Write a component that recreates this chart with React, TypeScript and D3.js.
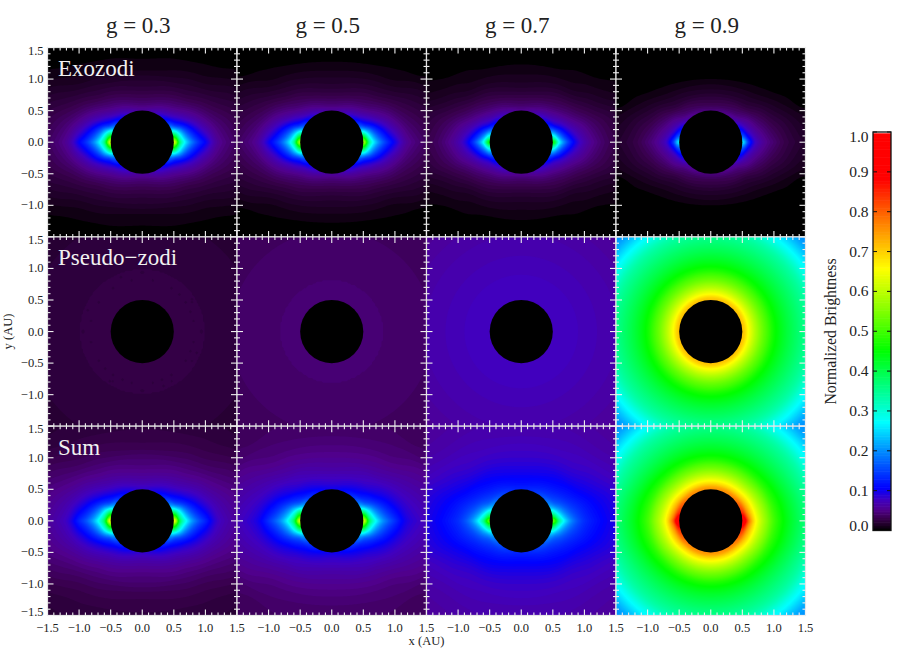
import React, { useMemo } from "react";
import * as d3 from "d3";

// polar sampling: radius in AU, angle above the x axis in degrees
const radii = [0.5, 0.6, 0.7, 0.8, 0.9, 1.0, 1.2, 1.4, 1.6, 1.8, 2.12];
const angles = [0, 15, 30, 50, 90];

const exoG03 = [
  [0.65, 0.36, 0.25, 0.18, 0.135, 0.105, 0.055, 0.04, 0.03, 0.025, 0.02],
  [0.36, 0.25, 0.16, 0.112, 0.083, 0.064, 0.042, 0.032, 0.025, 0.02, 0.015],
  [0.17, 0.115, 0.085, 0.065, 0.052, 0.042, 0.028, 0.02, 0.015, 0.01, 0.004],
  [0.095, 0.068, 0.05, 0.039, 0.031, 0.024, 0.015, 0.008, 0.004, 0.002, 0.001],
  [0.055, 0.042, 0.032, 0.025, 0.019, 0.015, 0.006, 0.003, 0.001, 0.001, 0.001],
];
const exoG05 = [
  [0.6, 0.34, 0.235, 0.17, 0.128, 0.098, 0.054, 0.04, 0.03, 0.025, 0.018],
  [0.34, 0.23, 0.15, 0.108, 0.08, 0.062, 0.04, 0.03, 0.023, 0.018, 0.012],
  [0.16, 0.11, 0.082, 0.062, 0.05, 0.041, 0.027, 0.019, 0.013, 0.007, 0.002],
  [0.092, 0.065, 0.048, 0.037, 0.03, 0.023, 0.013, 0.006, 0.003, 0.001, 0.001],
  [0.055, 0.041, 0.031, 0.023, 0.017, 0.013, 0.006, 0.002, 0.001, 0.001, 0.001],
];
const exoG07 = [
  [0.47, 0.28, 0.18, 0.12, 0.085, 0.065, 0.045, 0.032, 0.025, 0.02, 0.01],
  [0.24, 0.16, 0.105, 0.076, 0.06, 0.05, 0.035, 0.026, 0.019, 0.013, 0.006],
  [0.125, 0.085, 0.065, 0.05, 0.04, 0.032, 0.021, 0.013, 0.008, 0.005, 0.002],
  [0.08, 0.058, 0.043, 0.033, 0.026, 0.019, 0.009, 0.005, 0.002, 0.001, 0.001],
  [0.05, 0.037, 0.028, 0.02, 0.014, 0.01, 0.005, 0.001, 0.001, 0.001, 0.001],
];
const exoG09 = [
  [0.27, 0.14, 0.08, 0.06, 0.048, 0.04, 0.026, 0.018, 0.012, 0.008, 0.005],
  [0.14, 0.085, 0.06, 0.047, 0.038, 0.03, 0.02, 0.012, 0.007, 0.003, 0.001],
  [0.09, 0.062, 0.047, 0.035, 0.027, 0.02, 0.01, 0.004, 0.001, 0.001, 0.001],
  [0.055, 0.04, 0.03, 0.02, 0.014, 0.009, 0.003, 0.001, 0.001, 0.001, 0.001],
  [0.042, 0.03, 0.022, 0.014, 0.009, 0.004, 0.001, 0.001, 0.001, 0.001, 0.001],
];

// pseudo-zodi is close to round, so one radial profile per g
const pseudoG03 = [0.025, 0.025, 0.025, 0.024, 0.024, 0.024, 0.023, 0.022, 0.021, 0.02, 0.018];
const pseudoG05 = [0.041, 0.041, 0.041, 0.04, 0.04, 0.039, 0.038, 0.037, 0.036, 0.034, 0.032];
const pseudoG07 = [0.075, 0.075, 0.074, 0.073, 0.072, 0.07, 0.068, 0.066, 0.063, 0.06, 0.055];
const pseudoG09 = [0.71, 0.65, 0.59, 0.54, 0.5, 0.46, 0.41, 0.37, 0.33, 0.27, 0.2];

const gValues = ["0.3", "0.5", "0.7", "0.9"];
const rowNames = ["Exozodi", "Pseudo\u2212zodi", "Sum"];
const exoByG = [exoG03, exoG05, exoG07, exoG09];
const pseudoByG = [pseudoG03, pseudoG05, pseudoG07, pseudoG09];

const colorStops = [0, 0.01, 0.03, 0.05, 0.075, 0.105, 0.2, 0.27, 0.36, 0.45, 0.56, 0.655, 0.77, 0.88, 1];
const colorValues = [
  "#000000", "#1a0020", "#3a0050", "#50008c", "#4000c0", "#0000ff", "#0090ff", "#00ffff",
  "#00ff80", "#00ff00", "#90ff00", "#ffff00", "#ff8000", "#ff0000", "#ff0000",
];
const barTicks = [0, 0.1, 0.2, 0.3, 0.4, 0.5, 0.6, 0.7, 0.8, 0.9, 1];

const color = d3.scaleLinear<string>().domain(colorStops).range(colorValues);

const FONT = "'Liberation Serif', 'Times New Roman', serif";
const GRID = 120;
const LEVEL_STEP = 0.004;
const levels = d3.range(LEVEL_STEP, 1.0, LEVEL_STEP);

const colX = [47.5, 237, 426.5, 616, 805.5];
const rowY = [47.5, 236.9, 426.2, 615.5];
const majorTicks = d3.range(-3, 4).map((d) => d / 2);
const minorTicks = d3.range(-15, 16).map((d) => d / 10);

// monotone cubic through the read samples; pointed keeps the first slope so wings end in a tip
function monotoneAt(xs: number[], ys: number[], x: number, pointed = false) {
  if (x <= xs[0]) return ys[0];
  if (x >= xs[xs.length - 1]) return ys[ys.length - 1];
  const i = d3.bisectRight(xs, x) - 1;
  const slope = (k: number) => (ys[k + 1] - ys[k]) / (xs[k + 1] - xs[k]);
  const tangent = (k: number) => {
    if (k === 0 && pointed) return slope(0);
    if (k <= 0 || k >= xs.length - 1) return 0;
    const a = slope(k - 1);
    const b = slope(k);
    return a * b <= 0 ? 0 : (2 * a * b) / (a + b);
  };
  const h = xs[i + 1] - xs[i];
  const t = (x - xs[i]) / h;
  const t2 = t * t;
  const t3 = t2 * t;
  return (
    (2 * t3 - 3 * t2 + 1) * ys[i] +
    (t3 - 2 * t2 + t) * h * tangent(i) +
    (-2 * t3 + 3 * t2) * ys[i + 1] +
    (t3 - t2) * h * tangent(i + 1)
  );
}

function buildField(exo: number[][] | null, pseudo: number[] | null) {
  const logRows = exo ? exo.map((row) => row.map(Math.log)) : null;
  const values = new Array(GRID * GRID);
  for (let j = 0; j < GRID; j++) {
    for (let i = 0; i < GRID; i++) {
      const x = ((i + 0.5) / GRID) * 3 - 1.5;
      const y = ((j + 0.5) / GRID) * 3 - 1.5;
      const r = Math.hypot(x, y);
      const theta = (Math.atan2(Math.abs(y), Math.abs(x)) * 180) / Math.PI;
      let v = 0;
      if (logRows) {
        const across = logRows.map((row) => monotoneAt(radii, row, r));
        v += Math.exp(monotoneAt(angles, across, theta, true));
      }
      if (pseudo) v += monotoneAt(radii, pseudo, r);
      values[i + j * GRID] = v;
    }
  }
  return values;
}

const Panel = ({ col, row }: { col: number; row: number }) => {
  const x = d3.scaleLinear().domain([-1.5, 1.5]).range([colX[col], colX[col + 1]]);
  const y = d3.scaleLinear().domain([-1.5, 1.5]).range([rowY[row + 1], rowY[row]]);

  const bands = useMemo(() => {
    const values = buildField(row !== 1 ? exoByG[col] : null, row !== 0 ? pseudoByG[col] : null);
    const gx = d3.scaleLinear().domain([0, GRID]).range([colX[col], colX[col + 1]]);
    const gy = d3.scaleLinear().domain([0, GRID]).range([rowY[row], rowY[row + 1]]);
    const path = d3.geoPath(
      d3.geoTransform({
        point(px, py) {
          this.stream.point(gx(px), gy(py));
        },
      })
    );
    return d3
      .contours()
      .size([GRID, GRID])
      .thresholds(levels)(values)
      .filter((c) => c.coordinates.length > 0)
      .map((c) => ({ value: c.value, d: path(c) as string }));
  }, [col, row]);

  const tickColor = "#f0f0f0";
  return (
    <g>
      <rect
        x={x(-1.5)}
        y={y(1.5)}
        width={x(1.5) - x(-1.5)}
        height={y(-1.5) - y(1.5)}
        fill={color(0)}
      />
      {bands.map((b) => (
        <path key={b.value} d={b.d} fill={color(b.value + LEVEL_STEP / 2)} />
      ))}
      <circle cx={x(0)} cy={y(0)} r={x(0.5) - x(0)} fill="#000" />
      <rect
        x={x(-1.5)}
        y={y(1.5)}
        width={x(1.5) - x(-1.5)}
        height={y(-1.5) - y(1.5)}
        fill="none"
        stroke="#e4e4e4"
        strokeWidth={1.2}
      />
      {minorTicks.map((t) => {
        const len = majorTicks.includes(t) ? 6 : 3;
        return (
          <g key={t} stroke={tickColor} strokeWidth={1.1}>
            <line x1={x(t)} x2={x(t)} y1={y(-1.5)} y2={y(-1.5) - len} />
            <line x1={x(t)} x2={x(t)} y1={y(1.5)} y2={y(1.5) + len} />
            <line x1={x(-1.5)} x2={x(-1.5) + len} y1={y(t)} y2={y(t)} />
            <line x1={x(1.5)} x2={x(1.5) - len} y1={y(t)} y2={y(t)} />
          </g>
        );
      })}
      {col === 0 &&
        majorTicks
          .filter((t) => t !== -1.5 || row === 2)
          .map((t) => (
            <text
              key={t}
              x={43.5}
              y={y(t) + (t === 1.5 ? 3 : t === -1.5 ? -4 : 0) + 4}
              textAnchor="end"
              fontSize={12.5}
              fill="#222"
            >
              {t < 0 ? "\u2212" : ""}
              {Math.abs(t).toFixed(1)}
            </text>
          ))}
      {row === 2 &&
        majorTicks
          .filter((t) => t !== -1.5 || col === 0)
          .map((t) => (
            <text key={t} x={x(t)} y={632} textAnchor="middle" fontSize={12.5} fill="#222">
              {t < 0 ? "\u2212" : ""}
              {Math.abs(t).toFixed(1)}
            </text>
          ))}
      {col === 0 && (
        <text x={58} y={y(1.5) + 28.5} fontSize={23} fill="#f0f0f0">
          {rowNames[row]}
        </text>
      )}
      {row === 0 && (
        <text x={x(0) - 4} y={33} textAnchor="middle" fontSize={23} fill="#222">
          g = {gValues[col]}
        </text>
      )}
    </g>
  );
};

const ColorBar = () => {
  const scale = d3.scaleLinear().domain([0, 1]).range([530.5, 132]);
  const x0 = 873;
  const x1 = 891;
  const steps = d3.range(0, 0.994, 0.004);
  return (
    <g>
      {steps.map((v) => (
        <rect
          key={v}
          x={x0}
          y={scale(v + 0.004) - 0.3}
          width={x1 - x0}
          height={scale(v) - scale(v + 0.004) + 0.6}
          fill={color(v)}
        />
      ))}
      <rect
        x={x0}
        y={scale(1)}
        width={x1 - x0}
        height={scale(0) - scale(1)}
        fill="none"
        stroke="#111"
        strokeWidth={1.3}
      />
      {barTicks.map((t) => (
        <g key={t}>
          <line x1={x0} x2={x0 + 4} y1={scale(t)} y2={scale(t)} stroke="#111" strokeWidth={1} />
          <line x1={x1 - 4} x2={x1} y1={scale(t)} y2={scale(t)} stroke="#111" strokeWidth={1} />
          <text
            x={868.5}
            y={scale(t) + (t === 1 ? 5 : t === 0 ? -4.5 : 0) + 5}
            textAnchor="end"
            fontSize={15.5}
            fill="#222"
          >
            {t.toFixed(1)}
          </text>
        </g>
      ))}
      <text
        transform="translate(835.5,331.5) rotate(-90)"
        textAnchor="middle"
        fontSize={15.8}
        fill="#222"
      >
        Normalized Brightness
      </text>
    </g>
  );
};

export default function App() {
  return (
    <svg
      width={900}
      height={663}
      style={{ position: "absolute", left: 0, top: 0, display: "block", background: "#fff" }}
      fontFamily={FONT}
    >
      {rowNames.map((_, row) =>
        gValues.map((_, col) => <Panel key={`${row}-${col}`} col={col} row={row} />)
      )}
      <text x={426.5} y={645} textAnchor="middle" fontSize={12.5} fill="#222">
        x (AU)
      </text>
      <text
        transform="translate(12,331.5) rotate(-90)"
        textAnchor="middle"
        fontSize={12.5}
        fill="#222"
      >
        y (AU)
      </text>
      <ColorBar />
    </svg>
  );
}
